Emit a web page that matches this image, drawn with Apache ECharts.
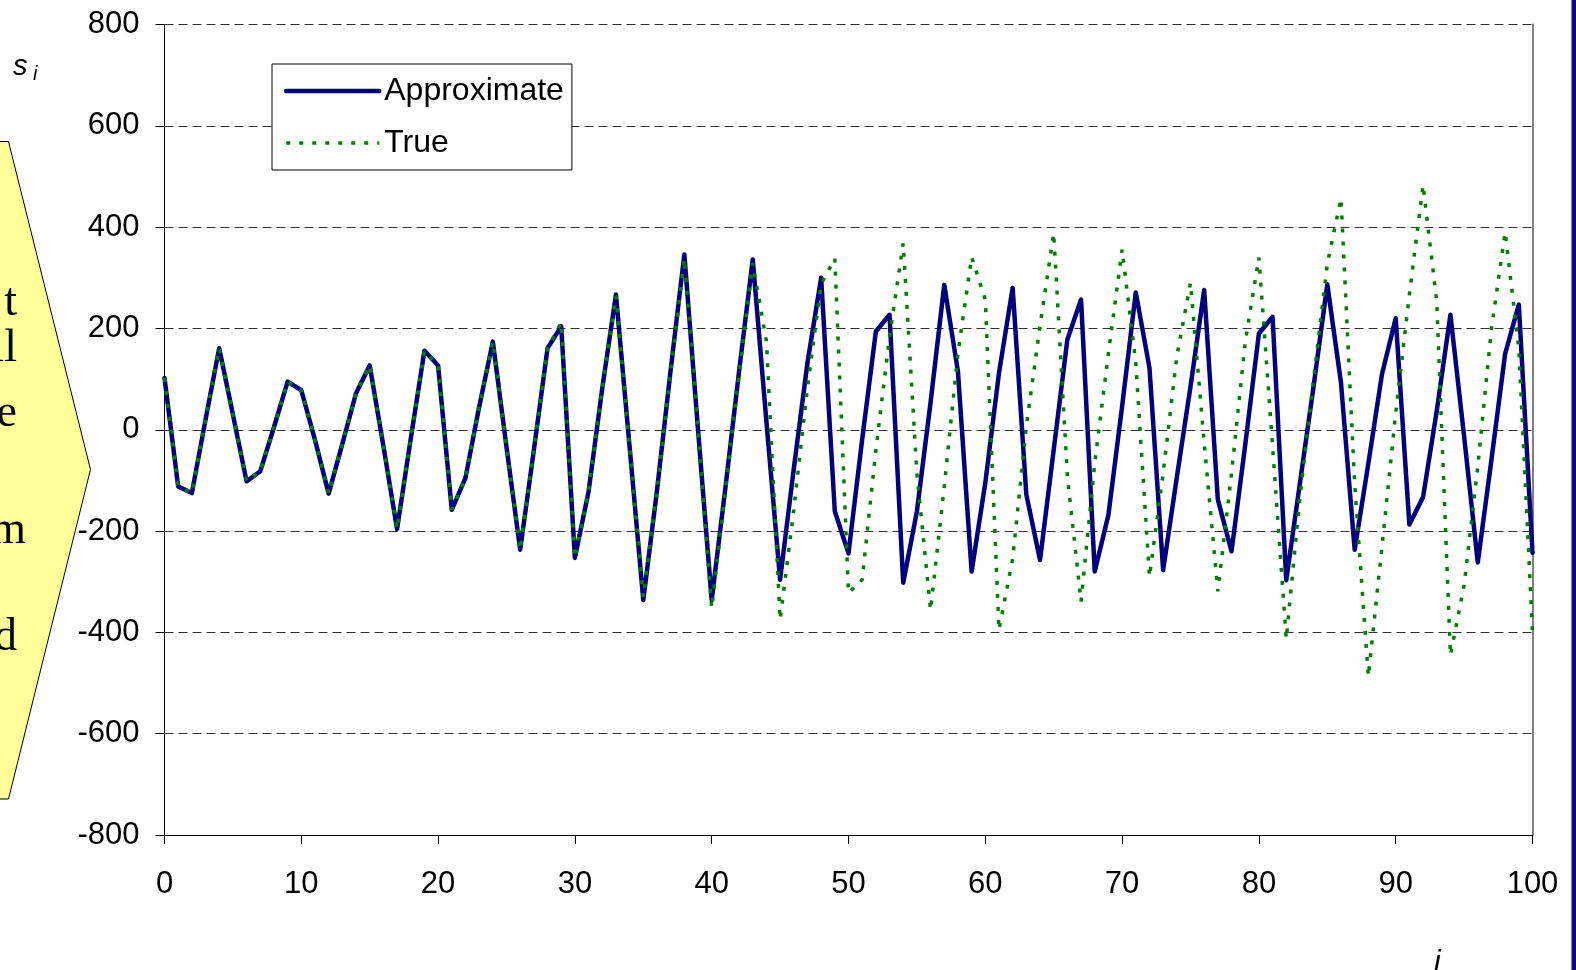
<!DOCTYPE html>
<html>
<head>
<meta charset="utf-8">
<script src="https://cdn.jsdelivr.net/npm/echarts@6/dist/echarts.min.js"></script>
<style>
html,body{margin:0;padding:0;background:#ffffff;}
#chart{width:1576px;height:970px;}
</style>
</head>
<body>
<div id="chart"></div>
<script>
// ---- data ----
const seriesNames = ['Approximate', 'True'];
const approximate = [
  102, -112, -125, 20, 161, 30, -102, -82, 5, 95,
  78, -20, -126, -28, 72, 127, -32, -196, -18, 156,
  127, -158, -95, 45, 174, -34, -237, -40, 161, 204,
  -253, -122, 82, 267, -34, -336, -120, 118, 346, 0,
  -336, -115, 115, 336, 16, -296, -77, 132, 300, -161,
  -244, -19, 194, 227, -302, -161, 54, 286, 115, -280,
  -105, 112, 280, -128, -257, -40, 178, 257, -280, -168,
  46, 271, 122, -277, -94, 85, 276, -138, -240, -30,
  190, 223, -297, -105, 86, 287, 93, -237, -67, 110,
  220, -187, -133, 37, 227, -13, -262, -59, 150, 247,
  -243
];
const trueValues = [
  102, -112, -125, 20, 161, 30, -102, -82, 5, 95,
  78, -20, -126, -28, 72, 127, -32, -196, -18, 156,
  127, -158, -95, 45, 174, -34, -237, -40, 161, 212,
  -253, -122, 82, 264, -34, -330, -120, 115, 338, 0,
  -352, -120, 110, 329, 175, -375, -158, 83, 288, 338,
  -322, -296, -40, 184, 368, -86, -356, -112, 151, 341,
  257, -395, -255, 7, 205, 388, -92, -339, -66, 151,
  356, 132, -290, -86, 145, 290, -26, -319, -86, 173,
  340, -33, -413, -133, 100, 327, 457, -107, -487, -230,
  33, 267, 483, 253, -445, -307, -73, 200, 390, 160,
  -400
];
const xTicks = [0, 10, 20, 30, 40, 50, 60, 70, 80, 90, 100];
const yTicks = [-800, -600, -400, -200, 0, 200, 400, 600, 800];
const yTitleMain = 's';
const yTitleSub = 'i';
const xTitle = 'i';
const sideLetters = ['t', 'll', 'e', 'm', 'd'];

// ---- chart ----
const SANS = "'Liberation Sans', Arial, sans-serif";
const SERIF = "'Liberation Serif', 'Times New Roman', serif";
const toPairs = arr => arr.map((v, i) => [i, v]);

const chart = echarts.init(document.getElementById('chart'), null, {renderer: 'canvas'});

const letterPos = [
  {x: 17, y: 303}, {x: 17, y: 349}, {x: 17, y: 414}, {x: 26, y: 531}, {x: 17, y: 638}
];

const graphics = [
  {
    type: 'polygon', z: 1,
    shape: {points: [[-5, 141.5], [8.5, 141.5], [90.5, 469.5], [8.5, 799], [-5, 799]]},
    style: {fill: '#FFFF99', stroke: '#000000', lineWidth: 1}
  },
  {
    type: 'rect', z: 1,
    shape: {x: 1571.5, y: 0, width: 6, height: 970},
    style: {fill: '#0A0A8C'}
  },
  {
    type: 'text', z: 2,
    style: {
      x: 13, y: 67,
      text: '{s|' + yTitleMain + '}{sub| ' + yTitleSub + '}',
      verticalAlign: 'middle',
      rich: {
        s: {fontFamily: SANS, fontStyle: 'italic', fontSize: 29, fill: '#000'},
        sub: {fontFamily: SANS, fontStyle: 'italic', fontSize: 20, fill: '#000', padding: [14, 0, 0, 0]}
      }
    }
  },
  {
    type: 'text', z: 2,
    style: {
      x: 1434, y: 963, text: xTitle, verticalAlign: 'middle',
      font: "italic 30px " + SANS, fill: '#000'
    }
  }
];
sideLetters.forEach((t, k) => {
  graphics.push({
    type: 'text', z: 2,
    style: {
      x: letterPos[k].x, y: letterPos[k].y, text: t,
      align: 'right', verticalAlign: 'middle',
      font: "46px " + SERIF, fill: '#000'
    }
  });
});

const option = {
  animation: false,
  backgroundColor: '#ffffff',
  grid: {left: 164.5, right: 43.5, top: 24.5, bottom: 135, containLabel: false},
  legend: {
    orient: 'vertical',
    left: 272, top: 64,
    itemWidth: 93, itemHeight: 30, itemGap: 20,
    padding: [11, 8, 11, 12],
    borderColor: '#000', borderWidth: 1, backgroundColor: '#ffffff',
    itemStyle: {color: 'rgba(0,0,0,0)', borderWidth: 0, opacity: 0},
    lineStyle: {width: 'inherit', type: 'inherit'},
    textStyle: {fontSize: 32, color: '#000', fontFamily: SANS},
    data: seriesNames
  },
  xAxis: {
    type: 'value',
    min: xTicks[0], max: xTicks[xTicks.length - 1], interval: xTicks[1] - xTicks[0],
    axisLine: {show: true, onZero: false, lineStyle: {color: '#000', width: 1}},
    axisTick: {show: true, length: 9, lineStyle: {color: '#000'}},
    axisLabel: {fontSize: 31, color: '#000', fontFamily: SANS, margin: 34},
    splitLine: {show: false}
  },
  yAxis: [
    {
      type: 'value',
      min: yTicks[0], max: yTicks[yTicks.length - 1], interval: yTicks[1] - yTicks[0],
      axisLine: {show: true, onZero: false, lineStyle: {color: '#000', width: 1}},
      axisTick: {show: true, length: 9, lineStyle: {color: '#000'}},
      axisLabel: {fontSize: 31, color: '#000', fontFamily: SANS, margin: 25},
      splitLine: {show: true, lineStyle: {color: '#333', width: 1, type: [9, 5]}}
    },
    {
      type: 'value', position: 'right',
      min: yTicks[0], max: yTicks[yTicks.length - 1], interval: yTicks[1] - yTicks[0],
      axisLine: {show: true, onZero: false, lineStyle: {color: '#808080', width: 2}},
      axisTick: {show: false}, axisLabel: {show: false}, splitLine: {show: false}
    }
  ],
  series: [
    {
      name: seriesNames[0], type: 'line', data: toPairs(approximate),
      symbol: 'none', z: 3,
      lineStyle: {color: '#000080', width: 4.5, join: 'round', cap: 'round'},
      itemStyle: {color: '#000080'}
    },
    {
      name: seriesNames[1], type: 'line', data: toPairs(trueValues),
      symbol: 'none', z: 4,
      lineStyle: {color: '#008000', width: 3.5, type: [4, 9]},
      itemStyle: {color: '#008000'}
    }
  ],
  graphic: graphics
};
chart.setOption(option);
</script>
</body>
</html>
